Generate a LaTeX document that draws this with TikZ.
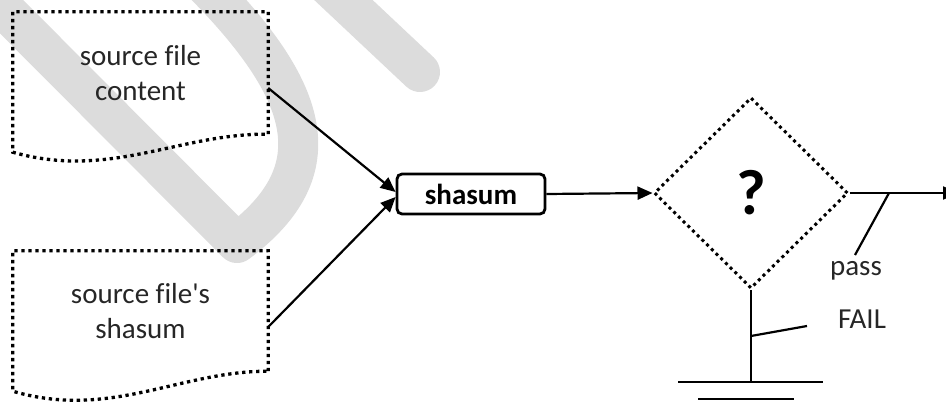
\documentclass[tikz,border=0pt]{standalone}
\usepackage{fontspec}
\setmainfont{Carlito}[Ligatures=NoCommon]
\usetikzlibrary{arrows.meta,shapes.geometric}
\definecolor{wmgray}{RGB}{220,220,220}
\definecolor{txtgray}{RGB}{38,38,38}
\tikzset{
  wm/.style={draw=wmgray, line width=40pt},
  dotbord/.style={line width=3.3pt, dash pattern=on 3.3pt off 3.7pt},
  doctext/.style={align=center, font=\fontsize{29}{35}\selectfont, text=txtgray,
    minimum width=255pt, inner sep=0pt},
  procbox/.style={draw, line width=2.8pt, rounded corners=5pt, minimum width=148pt,
    minimum height=40pt, inner sep=0pt, font=\fontsize{29}{35}\selectfont\bfseries},
  decision/.style={diamond, draw, line width=3pt, dash pattern=on 3pt off 3.6pt,
    minimum width=194pt, minimum height=191pt, inner sep=0pt,
    font=\fontsize{64}{70}\selectfont\bfseries},
  flow/.style={line width=2.2pt, -{Triangle[length=15pt,width=13pt]}},
  wire/.style={line width=2.2pt},
  lbl/.style={font=\fontsize{29}{35}\selectfont, text=txtgray, inner sep=0pt},
}
\begin{document}
\begin{tikzpicture}[x=1pt, y=-1pt]
  \useasboundingbox (0,0) rectangle (946,417);

  % watermark strokes
  \draw[wm, line join=round] (-30,-25) -- (237,243)
    .. controls (335,170) and (310,90) .. (200,-20);
  \draw[wm, line cap=round] (320,-22) -- (420,72);

  % input documents
  \node[doctext, minimum height=122pt] (doc1) at (140.5,73) {source file\\content};
  \draw[dotbord] (doc1.south east) -- (doc1.north east) -- (doc1.north west)
    -- ([yshift=-18pt]doc1.south west)
    .. controls (110,180) and (180,133) .. (doc1.south east);

  \node[doctext, minimum height=120pt] (doc2) at (140.5,311) {source file\textquotesingle s\\shasum};
  \draw[dotbord] (doc2.south east) -- (doc2.north east) -- (doc2.north west)
    -- ([yshift=-20pt]doc2.south west)
    .. controls (110,420) and (180,371) .. (doc2.south east);

  % checksum step and decision
  \node[procbox] (sha) at (471,194) {shasum};
  \node[decision] (dec) at (751,193) {?};

  \draw[flow] ([yshift=-15pt]doc1.east) -- ([yshift=2pt]sha.west);
  \draw[flow] ([yshift=-16pt]doc2.east) -- ([yshift=-3pt]sha.west);
  \draw[flow] (sha.east) -- (dec.west);

  % pass branch
  \coordinate (passend) at (958,193);
  \coordinate (passjoint) at (889,193);
  \coordinate (passtip) at (855,255);
  \draw[flow] (dec.east) -- (passend);
  \draw[wire] (passjoint) -- (passtip);
  \node[lbl] (pass) at (856,271) {pass};

  % fail branch to ground
  \coordinate (gnd) at (751,382);
  \coordinate (failjoint) at (751,336);
  \coordinate (failtip) at (807,326);
  \draw[wire] (dec.south) -- (gnd);
  \draw[wire] (failjoint) -- (failtip);
  \node[lbl] (fail) at (862,319) {FAIL};
  \draw[wire] ([xshift=-73pt]gnd) -- ([xshift=72pt]gnd);
  \draw[wire] ([xshift=-53pt,yshift=-17pt]gnd) -- ([xshift=43pt,yshift=-17pt]gnd);
\end{tikzpicture}
\end{document}
